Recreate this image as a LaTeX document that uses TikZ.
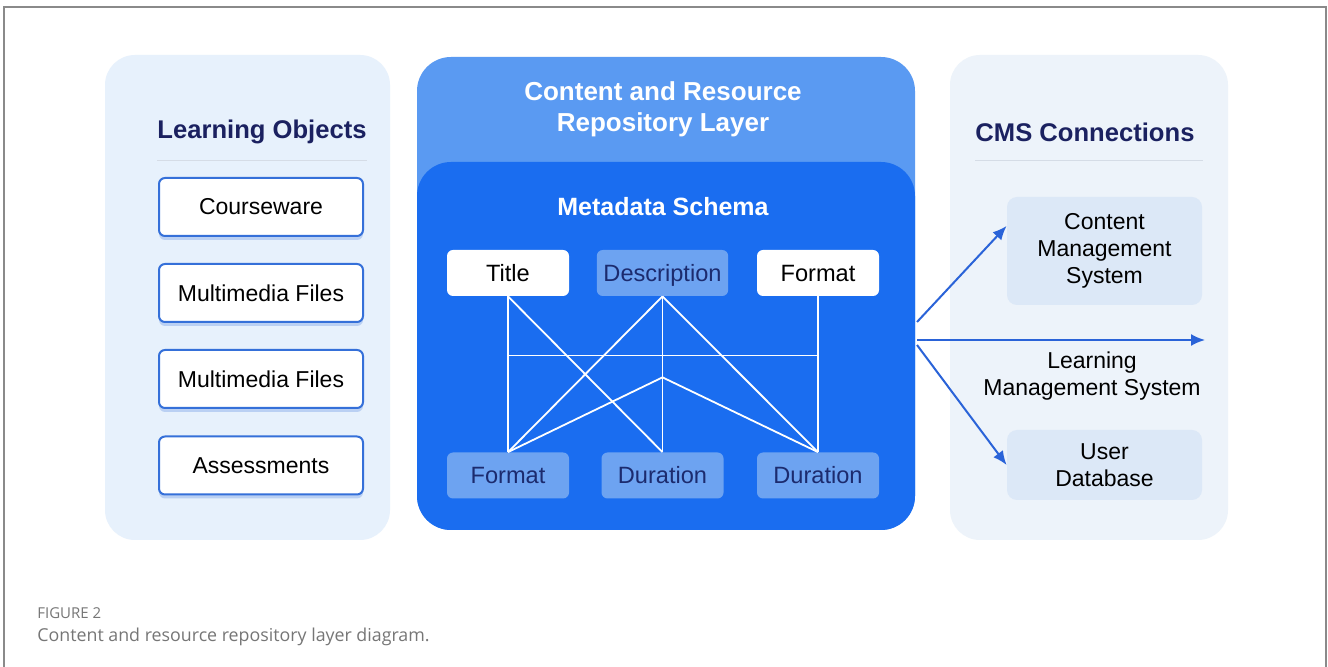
\documentclass[tikz,border=0pt]{standalone}
\usepackage{fontspec}
\setmainfont{Liberation Sans}
\newfontfamily\capfont{Open Sans}
\usetikzlibrary{arrows.meta,calc,shadows}
\definecolor{navy}{HTML}{1B2160}
\definecolor{navytxt}{HTML}{1C2B6E}
\definecolor{panelL}{HTML}{E7F1FC}
\definecolor{panelR}{HTML}{EDF3FA}
\definecolor{outerB}{HTML}{5A9AF2}
\definecolor{innerB}{HTML}{1A6DF0}
\definecolor{keyfill}{HTML}{6DA3F1}
\definecolor{boxline}{HTML}{3570D9}
\definecolor{arrowblue}{HTML}{2A63D8}
\definecolor{cmsfill}{HTML}{DCE8F7}
\definecolor{sepline}{HTML}{D5DCE6}
\definecolor{framegray}{HTML}{8A8A8A}
\definecolor{capgray}{HTML}{767676}

\begin{document}
\begin{tikzpicture}[x=0.5pt,y=-0.5pt,
  lobox/.style={draw=boxline,line width=1pt,fill=white,rounded corners=3pt,
    minimum width=102pt,minimum height=29pt,font=\fontsize{11.5}{13}\selectfont,
    drop shadow={shadow xshift=0pt,shadow yshift=-2pt,opacity=0.25,fill=boxline}},
  keyw/.style={fill=white,rounded corners=3pt,minimum width=61pt,minimum height=23pt,
    text height=11pt,text depth=2.6pt,font=\fontsize{11.8}{13}\selectfont,text=black},
  keyb/.style={keyw,fill=keyfill,text=navytxt},
  cmsbox/.style={fill=cmsfill,rounded corners=5pt,minimum width=97.5pt,align=center,
    font=\fontsize{11.5}{13.5}\selectfont},
  head/.style={font=\fontsize{12.8}{15}\selectfont\bfseries,text=navy},
  link/.style={white,line width=0.9pt},
  feed/.style={arrowblue,line width=1pt,-{Latex[length=7pt,width=6pt]}}]
 \useasboundingbox (0,0) rectangle (1328,667);
 \fill[white] (0,0) rectangle (1328,667);
 \draw[framegray,line width=1pt] (4,667) -- (4,7) -- (1326,7) -- (1326,667);
 \fill[panelL,rounded corners=15pt] (105,55) rectangle (390,540);
 \fill[panelR,rounded corners=15pt] (950,55) rectangle (1228,540);
 \fill[outerB,rounded corners=17pt] (417,57) rectangle (915,530);
 \fill[innerB,rounded corners=17pt] (417,162) rectangle (915,530);

 \node[head] (lohead) at (262,132) {Learning Objects};
 \draw[sepline] (157,160) -- (367,160);
 \node[lobox] (course) at (261,207) {Courseware};
 \node[lobox] (media1) at (261,293) {Multimedia Files};
 \node[lobox] (media2) at (261,379) {Multimedia Files};
 \node[lobox] (assess) at (261,465.5) {Assessments};

 \node[white,align=center,font=\fontsize{13}{15.5}\selectfont\bfseries] (layer) at (663,109)
  {Content and Resource\\Repository Layer};
 \node[white,font=\fontsize{12.5}{15}\selectfont\bfseries] (schema) at (663,207) {Metadata Schema};
 \node[keyw] (title) at (508,273) {Title};
 \node[keyb] (desc) at (662.5,273) {Description};
 \node[keyw] (fmtt) at (818,273) {Format};
 \node[keyb] (fmtb) at (508,475.5) {Format};
 \node[keyb] (durm) at (662.5,475.5) {Duration};
 \node[keyb] (durr) at (818,475.5) {Duration};
 \coordinate (hl) at ($(title.south)!0.38!(fmtb.north)$);
 \coordinate (jn) at ($(desc.south)!0.52!(durm.north)$);
 \draw[link] (title.south) -- (fmtb.north);
 \draw[link] (title.south) -- (durm.north);
 \draw[link] (fmtt.south) -- (durr.north);
 \draw[link] (desc.south) -- (fmtb.north);
 \draw[link] (desc.south) -- (durm.north);
 \draw[link] (desc.south) -- (durr.north);
 \draw[link] (hl) -- (hl -| fmtt.south);
 \draw[link] (fmtb.north) -- (jn) -- (durr.north);

 \node[head] (cmshead) at (1085,132) {CMS Connections};
 \draw[sepline] (975,160) -- (1203,160);
 \node[cmsbox,minimum height=54pt] (cms) at (1104.5,251) {Content\\Management\\System};
 \node[cmsbox,minimum height=35pt] (udb) at (1104.5,465) {User\\Database};
 \node[align=center,font=\fontsize{11.5}{13.5}\selectfont] (lms) at (1092,376)
  {Learning\\Management System};
 \coordinate (o1) at (917,322);
 \coordinate (o2) at (917,340);
 \coordinate (o3) at (917,345);
 \coordinate (lmsend) at (1205,340);
 \draw[feed] (o1) -- ($(cms.north west)!0.27!(cms.south west)$);
 \draw[feed] (o2) -- (lmsend);
 \draw[feed] (o3) -- (udb.west);

 \node[anchor=base west,inner sep=0pt,text=capgray,font=\capfont\fontsize{7.5}{8}\selectfont] (fig) at (37,618) {FIGURE 2};
 \node[anchor=base west,inner sep=0pt,text=capgray,font=\capfont\fontsize{8.9}{12}\selectfont] (cap) at (37,642)
  {Content and resource repository layer diagram.};
\end{tikzpicture}
\end{document}
